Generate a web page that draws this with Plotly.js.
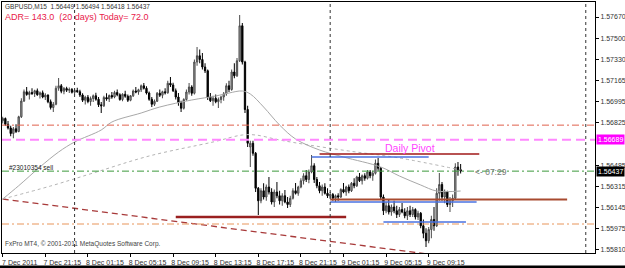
<!DOCTYPE html>
<html><head><meta charset="utf-8">
<script src="https://cdn.plot.ly/plotly-3.0.1.min.js"></script>
<style>html,body{margin:0;padding:0;background:#fff}#chart{width:625px;height:268px}</style>
</head><body><div id="chart"></div>
<script>
// Prices stored in points: price = 1.5 + pts/100000
const barStart = '2011-12-07 17:15'; // M15 bars
const openPts = [
6840,6858,6812,6782,6738,6776,6754,6872,6998,7072,
7050,7066,7058,7080,7048,7064,7030,7046,6992,6946,
6972,7100,7120,7076,7098,7084,7090,7068,7082,7072,
7046,7004,7028,6994,7018,7040,7012,6968,6960,7026,
7014,7042,7030,7066,7048,7010,7052,7036,7004,7040,
7078,7070,7088,7120,7100,7062,7012,6972,6996,7060,
7044,7072,7064,7140,7126,7080,7030,6986,6940,7010,
7070,7110,7060,7310,7360,7330,7270,7240,7030,7000,
7020,6992,7010,7030,7056,7120,7090,7230,7200,7320,
7600,7310,6930,6630,6660,6580,6300,6200,6280,6230,
6310,6270,6190,6270,6240,6200,6240,6190,6170,6220,
6280,6260,6310,6360,6400,6370,6430,6480,6370,6320,
6280,6310,6260,6240,6250,6220,6240,6230,6290,6270,
6310,6280,6340,6320,6390,6360,6400,6380,6430,6400,
6420,6500,6460,6230,6120,6160,6110,6150,6120,6090,
6130,6110,6080,6120,6090,6130,6070,6100,6000,5940,
5880,5970,6050,6000,6260,6330,6230,6270,6170,6200,
6220,6470,6449];
const highPts = [
6872,6866,6838,6800,6790,6812,6880,7020,7090,7110,
7080,7100,7088,7098,7074,7082,7060,7050,7010,6990,
7120,7182,7134,7110,7112,7106,7102,7096,7104,7088,
7060,7040,7046,7034,7050,7064,7030,6990,7040,7060,
7050,7070,7080,7090,7060,7060,7080,7050,7046,7090,
7110,7096,7130,7142,7116,7074,7030,7010,7070,7090,
7080,7100,7160,7190,7144,7098,7062,7000,7020,7090,
7142,7124,7330,7430,7410,7382,7300,7250,7062,7040,
7050,7026,7040,7070,7140,7160,7250,7300,7342,7686,
7622,7320,6960,6680,6680,6590,6310,6300,6340,6330,
6390,6300,6290,6350,6280,6260,6286,6230,6240,6300,
6342,6320,6380,6420,6446,6450,6566,6500,6390,6350,
6330,6340,6300,6270,6262,6250,6260,6300,6342,6320,
6330,6350,6380,6400,6422,6410,6420,6446,6446,6440,
6530,6542,6470,6250,6190,6206,6170,6200,6160,6150,
6182,6140,6150,6160,6150,6140,6120,6110,6050,5980,
5990,6080,6150,6300,6422,6350,6290,6280,6230,6250,
6500,6510,6494];
const lowPts = [
6818,6800,6770,6716,6700,6742,6748,6862,6990,7040,
7010,7046,7030,7040,7018,7020,7006,6980,6930,6910,
6964,7080,7060,7052,7070,7062,7058,7050,7064,7030,
6990,6970,6980,6960,6990,7000,6950,6902,6950,7000,
6990,7016,7020,7036,7000,6996,7024,6990,6996,7030,
7060,7048,7070,7090,7050,7000,6950,6958,6990,7030,
7020,7050,7056,7110,7070,7010,6960,6910,6930,7000,
7050,7040,7050,7280,7300,7250,7222,7006,6990,6960,
6980,6942,6980,7000,7040,7070,7080,7180,7190,7310,
7290,6902,6630,6470,6560,6270,6086,6180,6210,6200,
6250,6170,6150,6220,6170,6160,6180,6142,6150,6210,
6250,6240,6300,6330,6350,6340,6420,6342,6300,6260,
6240,6250,6222,6220,6200,6190,6200,6222,6260,6240,
6260,6270,6300,6310,6350,6330,6360,6370,6380,6360,
6410,6440,6206,6086,6100,6090,6080,6100,6062,6070,
6100,6060,6046,6070,6070,6050,6046,5980,5900,5830,
5860,5900,5960,5990,6200,6200,6180,6150,6110,6150,
6210,6400,6418];
const closePts = [
6858,6812,6782,6738,6776,6754,6872,6998,7072,7050,
7066,7058,7080,7048,7064,7030,7046,6992,6946,6972,
7100,7120,7076,7098,7084,7090,7068,7082,7072,7046,
7004,7028,6994,7018,7040,7012,6968,6960,7026,7014,
7042,7030,7066,7048,7010,7052,7036,7004,7040,7078,
7070,7088,7120,7100,7062,7012,6972,6996,7060,7044,
7072,7064,7140,7126,7080,7030,6986,6940,7010,7070,
7110,7060,7310,7360,7330,7270,7240,7030,7000,7020,
6992,7010,7030,7056,7120,7090,7230,7200,7320,7600,
7310,6930,6660,6660,6580,6300,6200,6280,6230,6310,
6270,6190,6270,6240,6200,6240,6190,6170,6220,6280,
6260,6310,6360,6400,6370,6430,6480,6370,6320,6280,
6310,6260,6240,6250,6220,6240,6230,6290,6270,6310,
6280,6340,6320,6390,6360,6400,6380,6430,6400,6420,
6500,6460,6230,6120,6160,6110,6150,6120,6090,6130,
6110,6080,6120,6090,6130,6070,6100,6000,5940,5880,
5970,6050,6000,6260,6330,6230,6270,6170,6200,6220,
6470,6449,6437];

// moving averages
const maSolidT = ['2011-12-07 17:15','2011-12-07 18:45','2011-12-07 20:45','2011-12-07 22:30','2011-12-08 00:00','2011-12-08 02:30','2011-12-08 03:30','2011-12-08 06:15','2011-12-08 08:00','2011-12-08 11:00','2011-12-08 13:15','2011-12-08 14:30','2011-12-08 15:45','2011-12-08 16:30','2011-12-08 17:45','2011-12-08 19:15','2011-12-08 20:45','2011-12-08 23:00','2011-12-09 01:15','2011-12-09 04:45','2011-12-09 06:30','2011-12-09 08:30','2011-12-09 10:00','2011-12-09 12:15'];
const maSolidPts = [6214,6320,6470,6590,6670,6766,6830,6902,6950,7006,7038,7062,7078,7054,6950,6806,6694,6606,6550,6470,6398,6326,6278,6278];
const maDotT = ['2011-12-07 17:15','2011-12-07 21:45','2011-12-08 01:45','2011-12-08 07:00','2011-12-08 13:00','2011-12-08 15:45','2011-12-08 17:00','2011-12-08 19:15','2011-12-08 22:00','2011-12-09 01:45','2011-12-09 06:30','2011-12-09 12:15'];
const maDotPts = [6214,6318,6422,6558,6670,6726,6726,6686,6646,6598,6542,6446];

// trend line
const trendT = ['2011-12-07 17:15','2011-12-10 00:00'];
const trendPts = [6214,5610];

// full-width horizontal levels
const levelPrices = [1.56805, 1.56689, 1.56437, 1.56014];
const levelColors = ['#e0604c','#ff88ff','#3c9a3c','#e8955a'];
const levelDash = ['dashdot','dash','dashdot','dashdot'];
const levelWidth = [1, 2, 1, 1];

// segment levels
const segStart = ['2011-12-08 09:30','2011-12-08 22:15','2011-12-08 23:00','2011-12-09 00:00','2011-12-09 00:00','2011-12-09 05:00'];
const segEnd   = ['2011-12-09 01:30','2011-12-09 09:15','2011-12-09 14:00','2011-12-09 13:45','2011-12-09 22:15','2011-12-09 12:45'];
const segPts   = [6070, 6550, 6574, 6190, 6210, 6030];
const segColors = ['#9a2020','#4a72e0','#a01818','#4a72e0','#a84a30','#4a72e0'];
const segWidth = [2.5, 1.5, 1.5, 1.5, 2, 1.5];

const separators = ['2011-12-08 00:00','2011-12-09 00:00','2011-12-10 00:00'];

const xTickVals = ['2011-12-07 17:15','2011-12-07 21:15','2011-12-08 01:15','2011-12-08 05:15','2011-12-08 09:15','2011-12-08 13:15','2011-12-08 17:15','2011-12-08 21:15','2011-12-09 01:15','2011-12-09 05:15','2011-12-09 09:15'];
const xTickText = ['7 Dec 2011','7 Dec 21:15','8 Dec 01:15','8 Dec 05:15','8 Dec 09:15','8 Dec 13:15','8 Dec 17:15','8 Dec 21:15','9 Dec 01:15','9 Dec 05:15','9 Dec 09:15'];
const yTickVals = [1.57670,1.57500,1.57330,1.57165,1.56995,1.56825,1.56485,1.56315,1.56145,1.55975,1.55810];

const toP = v => +(1.5 + v/100000).toFixed(5);
const t0 = Date.UTC(2011,11,7,17,15);
const times = openPts.map((_,i)=> new Date(t0 + i*900000).toISOString().slice(0,16).replace('T',' '));

const FONT = 'Liberation Sans, Arial, sans-serif';

const traces = [
  {type:'scatter', mode:'lines', x:trendT, y:trendPts.map(toP), line:{color:'#a83a3a', width:1.3, dash:'6px,4px'}, hoverinfo:'skip'},
  {type:'scatter', mode:'lines', x:maDotT, y:maDotPts.map(toP), line:{color:'#b4b4b4', width:1, dash:'dot', shape:'spline'}, hoverinfo:'skip'},
  {type:'scatter', mode:'lines', x:maSolidT, y:maSolidPts.map(toP), line:{color:'#a8a8a8', width:1, shape:'spline'}, hoverinfo:'skip'},
  {type:'candlestick', x:times, open:openPts.map(toP), high:highPts.map(toP), low:lowPts.map(toP), close:closePts.map(toP),
   increasing:{line:{color:'#4a4a4a', width:1}, fillcolor:'#a8a8a8'},
   decreasing:{line:{color:'#000000', width:1}, fillcolor:'#000000'}, whiskerwidth:0, hoverinfo:'skip'}
];

const shapes = [];
levelPrices.forEach((p,i)=> shapes.push({type:'line', xref:'paper', yref:'y', x0:0, x1:1, y0:p, y1:p, layer:'above',
  line:{color:levelColors[i], width:levelWidth[i], dash: levelDash[i]==='dash' ? '9px,5px' : '7px,3px,2px,3px'}}));
segPts.forEach((v,i)=> shapes.push({type:'line', xref:'x', yref:'y', x0:segStart[i], x1:segEnd[i], y0:toP(v), y1:toP(v), layer:'above',
  line:{color:segColors[i], width:segWidth[i]}}));
separators.forEach(t=> shapes.push({type:'line', xref:'x', yref:'paper', x0:t, x1:t, y0:0, y1:1, layer:'above',
  line:{color:'#333333', width:1, dash:'dot'}}));
shapes.push({type:'rect', xref:'paper', yref:'paper', x0:-0.01, x1:1.06, y0:-0.075, y1:-0.050, fillcolor:'#000', line:{width:0}, layer:'above'});

const annotations = [
  {xref:'paper', yref:'paper', x:0.0017, y:0.984, xanchor:'left', yanchor:'middle', showarrow:false,
   text:'GBPUSD,M15  1.56449 1.56494 1.56418 1.56437', font:{family:FONT, size:6.5, color:'#333333'}},
  {xref:'paper', yref:'paper', x:0.0017, y:0.94, xanchor:'left', yanchor:'middle', showarrow:false,
   text:'ADR= 143.0  (20 days) Today= 72.0', font:{family:FONT, size:9, color:'#e8204a'}},
  {xref:'paper', yref:'paper', x:0.0084, y:0.34, xanchor:'left', yanchor:'middle', showarrow:false,
   text:'#23010354 sell', font:{family:FONT, size:6.5, color:'#222222'}},
  {xref:'paper', yref:'paper', x:0.0017, y:0.036, xanchor:'left', yanchor:'middle', showarrow:false,
   text:'FxPro MT4, © 2001-2011 MetaQuotes Software Corp.', font:{family:FONT, size:6.5, color:'#444444'}},
  {xref:'paper', yref:'paper', x:0.6425, y:0.418, xanchor:'left', yanchor:'middle', showarrow:false,
   text:'Daily Pivot', font:{family:FONT, size:10.5, color:'#ff44ff'}},
  {xref:'paper', yref:'paper', x:0.795, y:0.3227, xanchor:'left', yanchor:'middle', showarrow:false,
   text:'&lt;- 07:29', font:{family:FONT, size:8.5, color:'#777777'}},
  {xref:'paper', yref:'y', x:1, y:1.56689, xanchor:'left', yanchor:'middle', xshift:1, showarrow:false,
   text:'1.56689', bgcolor:'#ff00ff', borderpad:1, font:{family:FONT, size:7, color:'#ffffff'}},
  {xref:'paper', yref:'y', x:1, y:1.56437, xanchor:'left', yanchor:'middle', xshift:1, showarrow:false,
   text:'1.56437', bgcolor:'#000000', borderpad:1, font:{family:FONT, size:7, color:'#ffffff'}}
];

const layout = {
  width:625, height:268, margin:{l:2, r:30, t:2, b:15},
  paper_bgcolor:'#ffffff', plot_bgcolor:'#ffffff', showlegend:false, dragmode:false,
  font:{family:FONT, size:7, color:'#333333'},
  xaxis:{type:'date', range:['2011-12-07 17:11','2011-12-10 00:52'], tickmode:'array', tickvals:xTickVals, ticktext:xTickText,
    tickangle:0, automargin:false, ticks:'outside', ticklen:3, tickcolor:'#000', showgrid:false, zeroline:false,
    showline:true, mirror:true, linecolor:'#000', linewidth:1, tickfont:{family:FONT, size:7, color:'#333'},
    ticklabelshift:17, ticklabelstandoff:0,
    rangeslider:{visible:false}, fixedrange:true},
  yaxis:{side:'right', range:[1.55782, 1.57790], tickmode:'array', tickvals:yTickVals, ticktext:yTickVals.map(v=>v.toFixed(5)),
    ticks:'outside', ticklen:3, tickcolor:'#000', showgrid:false, zeroline:false, showline:true, mirror:true, automargin:false,
    linecolor:'#000', linewidth:1, tickfont:{family:FONT, size:7, color:'#333'}, fixedrange:true},
  shapes, annotations
};
Plotly.newPlot('chart', traces, layout, {staticPlot:true, displayModeBar:false});
</script></body></html>
